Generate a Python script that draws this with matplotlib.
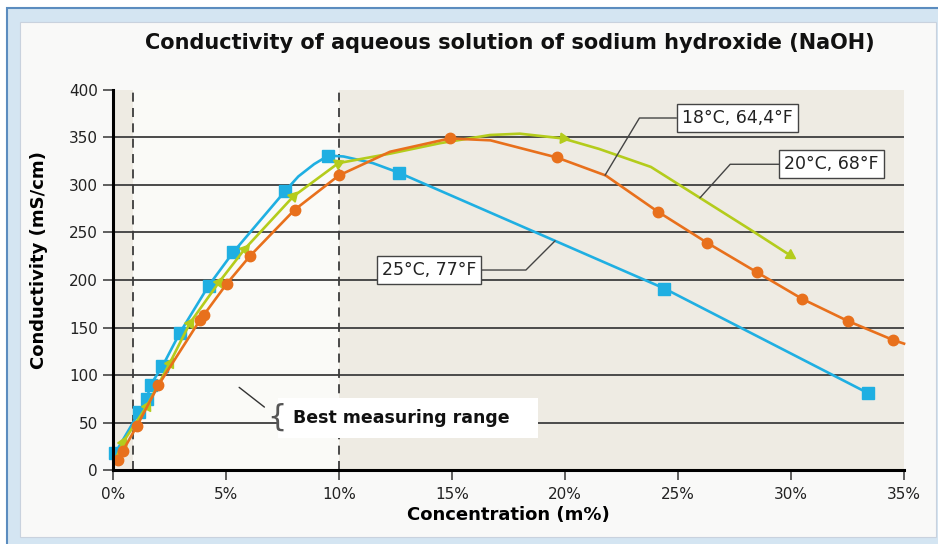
import matplotlib
matplotlib.use('Agg')
import matplotlib.pyplot as plt
import matplotlib.patches as patches
import matplotlib.ticker as ticker
import numpy as np

# 18°C, 64,4°F  (orange, circles)
conc_18 = [0.24, 0.43, 1.05, 2.0, 3.85, 4.01, 5.03, 6.05, 8.04, 9.99, 12.26, 14.9,
           16.7, 19.63, 21.8, 24.1, 26.3, 28.5, 30.5, 32.5, 34.5, 35.0]
cond_18 = [10.5, 20, 46, 89, 158, 163, 196, 225, 274, 310, 335, 349,
           347, 329, 310, 272, 239, 208, 180, 157, 137, 133]
marks_18 = [0, 1, 2, 3, 4, 5, 6, 7, 8, 9, 11, 13, 15, 16, 17, 18, 19, 20]

# 20°C, 68°F  (green, triangles)
conc_20 = [0.2, 0.46, 1.49, 2.52, 3.41, 4.70, 5.84, 7.98, 9.97, 12.26, 14.47,
           16.68, 18.0, 19.9, 21.5, 23.8, 26.0, 28.2, 29.96]
cond_20 = [16, 30, 67, 113, 155, 198, 233, 288, 323, 333, 344,
           352.6, 354, 349, 338, 319, 286, 253, 226]
marks_20 = [1, 2, 3, 4, 5, 6, 7, 8, 13, 18]

# 25°C, 77°F  (blue, squares)
conc_25 = [0.1, 1.16, 1.49, 1.67, 2.18, 2.96, 4.23, 5.31, 7.63, 8.2, 8.9, 9.53,
           10.2, 11.5, 12.64, 24.4, 33.4]
cond_25 = [18, 61, 75, 90, 109, 144.5, 194, 229, 294, 309, 322, 331,
           330, 323, 313, 191, 81]
marks_25 = [0, 1, 2, 3, 4, 5, 6, 7, 8, 11, 14, 15, 16]

x_ticks = [0, 5, 10, 15, 20, 25, 30, 35]
y_ticks = [0, 50, 100, 150, 200, 250, 300, 350, 400]
best_range = [0.88, 10]

c_blue = '#1fafe2'
c_orange = '#e8701c'
c_green = '#b4cc1c'

fig = plt.figure(figsize=(9.38, 5.44), dpi=100)
fig.patch.set_facecolor('white')

# light blue frame + inner panel
fig.patches.append(patches.Rectangle((7 / 938, -0.1), 2, 1.1 - 8 / 544,
                                     transform=fig.transFigure, facecolor='#d4e5f2',
                                     edgecolor='#5b8cbf', linewidth=1.5, zorder=-5))
fig.patches.append(patches.Rectangle((20 / 938, 7 / 544), 916 / 938, 515 / 544,
                                     transform=fig.transFigure, facecolor='#f9f9f8',
                                     edgecolor='#c9d2de', linewidth=0.8, zorder=-4))

ax = fig.add_axes([0.1205, 0.136, 0.8433, 0.6986])
ax.set_facecolor('#fafaf7')
ax.set_xlim(0, 35)
ax.set_ylim(0, 400)

# shaded areas outside best measuring range
ax.axvspan(0, best_range[0], color='#eeebe3', zorder=0, lw=0)
ax.axvspan(best_range[1], 35, color='#eeebe3', zorder=0, lw=0)
for xv in best_range:
    ax.axvline(xv, color='#3c3c3c', lw=1.3, ls=(0, (5, 3.5)), zorder=1)

ax.yaxis.set_major_locator(ticker.FixedLocator(y_ticks))
ax.xaxis.set_major_locator(ticker.FixedLocator(x_ticks))
ax.xaxis.set_major_formatter(ticker.FuncFormatter(lambda v, p: '%d%%' % v))
ax.grid(axis='y', color='#4a4a4a', lw=1.4, zorder=1)
ax.set_axisbelow(True)
ax.get_ygridlines()[-1].set_visible(False)

for side in ['top', 'right']:
    ax.spines[side].set_visible(False)
for side in ['left', 'bottom']:
    ax.spines[side].set_linewidth(2.2)
    ax.spines[side].set_color('black')
    ax.spines[side].set_zorder(6)
ax.tick_params(direction='out', length=7, width=1.2, color='#444444',
               labelsize=11, labelcolor='#222222')
ax.tick_params(axis='x', pad=5)
ax.tick_params(axis='y', pad=4)

# curves
ax.plot(conc_25, cond_25, color=c_blue, lw=1.9, marker='s', ms=8,
        markevery=marks_25, zorder=3, clip_on=False)
ax.plot(conc_20, cond_20, color=c_green, lw=1.9, zorder=3, clip_on=False)
tri_angles = [-25, -28, -30, -32, -35, -40, -43, -65, -95, -122]
for i, a in zip(marks_20, tri_angles):
    ax.plot(conc_20[i], cond_20[i], color=c_green, marker=(3, 0, a), ms=8.5,
            ls='none', zorder=4)
ax.plot(conc_18, cond_18, color=c_orange, lw=1.9, marker='o', ms=7.5,
        markevery=marks_18, zorder=5, clip_on=False)

ax.set_ylabel('Conductivity (mS/cm)', fontsize=13, fontweight='bold')
ax.yaxis.set_label_coords(-0.082, 0.553)
ax.set_xlabel('Concentration (m%)', fontsize=13, fontweight='bold')
ax.xaxis.set_label_coords(0.5, -0.094)

fig.text(0.5437, 1 - 43 / 544,
         'Conductivity of aqueous solution of sodium hydroxide (NaOH)',
         ha='center', va='center', fontsize=15, fontweight='bold', color='#111111')

# temperature labels
box = dict(boxstyle='square,pad=0.3', fc='white', ec='#444444', lw=1)
labels = [('25°C, 77°F', conc_25, cond_25, 19.56, (13.98, 210.5), 45),
          ('18°C, 64,4°F', conc_18, cond_18, 21.77, (27.63, 370.5), 59),
          ('20°C, 68°F', conc_20, cond_20, 25.97, (31.8, 321.8), 48)]
for txt, xs, ys, xp, pos, ang in labels:
    ax.annotate(txt, xy=(xp, np.interp(xp, xs, ys)), xytext=pos,
                ha='center', va='center', fontsize=12.5, color='#222222',
                bbox=box, zorder=7,
                arrowprops=dict(arrowstyle='-', color='#444444', lw=1,
                                shrinkA=0, shrinkB=0,
                                connectionstyle='angle,angleA=0,angleB=%d,rad=0' % ang))

# best measuring range
ax.add_patch(patches.Rectangle((7.3, 33.7), 11.5, 42.1, facecolor='white',
                               edgecolor='none', zorder=6.5))
ax.text(7.96, 55, 'Best measuring range', ha='left', va='center', fontsize=12.5,
        fontweight='bold', color='#111111', zorder=7)
ax.annotate('{', xy=(5.58, 87), xytext=(7.25, 56), ha='center', va='center',
            fontsize=22, color='#555555', zorder=8,
            arrowprops=dict(arrowstyle='-', color='#333333', lw=1,
                            shrinkA=0, shrinkB=0))

plt.savefig('out.png', dpi=100)
